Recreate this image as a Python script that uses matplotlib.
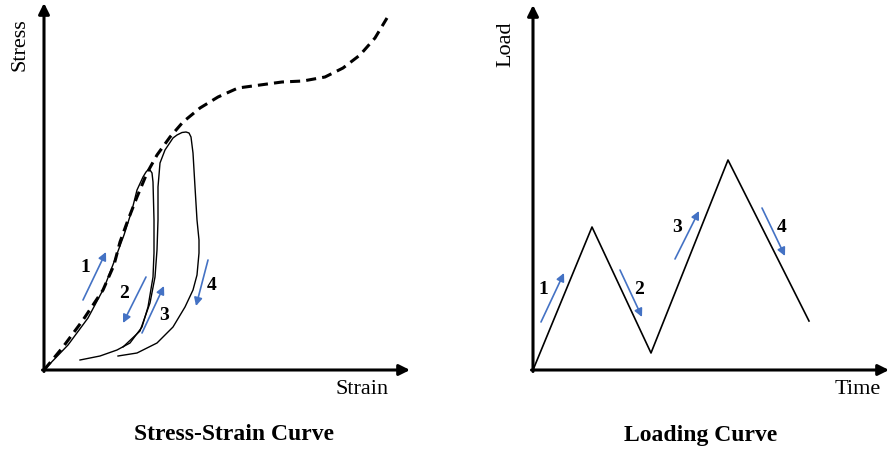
import matplotlib.pyplot as plt

plt.rcParams['font.family'] = ['Liberation Serif', 'DejaVu Serif']

# Stress-strain schematic (arbitrary units, origin at axes corner)
envelope_strain = [0, 19, 39, 59, 70, 76, 84, 93, 103, 113, 126, 139, 156, 174, 194,
                   216, 238, 259, 281, 299, 316, 331, 343]
envelope_stress = [0, 23, 50, 80, 105, 128, 150, 173, 197, 215, 233, 248, 262, 273,
                   282, 285, 288, 289, 293, 302, 315, 332, 352]

loop1_strain = [0, 24, 44, 60, 70, 80, 88, 93, 99, 102, 104, 106, 108, 109, 110, 110,
                109, 104, 98, 86, 73, 56, 36]
loop1_stress = [0, 25, 52, 82, 108, 135, 160, 180, 193, 198, 200, 200, 197, 188, 150,
                117, 93, 63, 43, 27, 20, 14, 10]

loop2_strain = [79, 96, 106, 111, 113, 114, 114, 116, 121, 129, 133, 138, 142, 145,
                147, 149, 151, 153, 155, 155, 153, 149, 141, 129, 113, 93, 74]
loop2_stress = [23, 39, 67, 93, 120, 150, 183, 207, 220, 232, 235, 237.5, 238, 237,
                233, 217, 183, 150, 130, 117, 95, 80, 63, 43, 27, 17, 14]

# blue direction arrows: (x_start, y_start, x_end, y_end) and label positions
ss_arrows = [(39, 70, 62, 118), (102, 93, 79, 47), (98, 37, 120, 84), (164, 110, 152, 64)]
ss_labels = [(41, 103), (80, 77), (120, 55), (168, 84)]

# Loading history
time = [0, 59, 118, 195, 276]
load = [0, 143, 17, 210, 49]
ld_arrows = [(8, 48, 31, 97), (87, 100, 109, 53), (142, 111, 166, 159), (229, 162, 252, 114)]
ld_labels = [(10, 81), (106, 81), (144, 142), (249, 142)]

step_names = ['1', '2', '3', '4']
blue = '#4472C4'

fig = plt.figure(figsize=(8.9, 4.5), dpi=100)
ax1 = fig.add_axes([0, 0, 0.5, 1])
ax2 = fig.add_axes([0.5, 0, 0.5, 1])
ax1.set_xlim(-44, 401)
ax1.set_ylim(-80, 370)
ax2.set_xlim(-88, 357)
ax2.set_ylim(-80, 370)


def draw_axes(ax, xmax, ymax):
    head = dict(arrowstyle='-|>', lw=2.2, color='black', mutation_scale=16,
                shrinkA=0, shrinkB=0)
    ax.annotate('', xy=(xmax, 0), xytext=(-1.5, 0), arrowprops=head)
    ax.annotate('', xy=(0, ymax), xytext=(0, -1.5), arrowprops=head)
    ax.axis('off')


def draw_steps(ax, arrows, labels):
    for (x0, y0, x1, y1), (lx, ly), name in zip(arrows, labels, step_names):
        ax.annotate('', xy=(x1, y1), xytext=(x0, y0),
                    arrowprops=dict(arrowstyle='-|>', lw=1.2, color=blue,
                                    mutation_scale=12, shrinkA=0, shrinkB=0))
        ax.text(lx, ly, name, fontsize=14, fontweight='bold', ha='center', va='center')


# Left panel
draw_axes(ax1, 366, 367)
ax1.plot(envelope_strain, envelope_stress, color='black', lw=2.2,
         linestyle=(0, (3.3, 2.0)), solid_joinstyle='round')
ax1.plot(loop1_strain, loop1_stress, color='black', lw=1.0, solid_joinstyle='round')
ax1.plot(loop2_strain, loop2_stress, color='black', lw=1.0, solid_joinstyle='round')
draw_steps(ax1, ss_arrows, ss_labels)
ax1.text(-24, 325, 'Stress', fontsize=16, rotation=90, ha='center', va='center')
ax1.text(318, -20, 'Strain', fontsize=16, ha='center', va='center')
ax1.text(190, -65, 'Stress-Strain Curve', fontsize=17, fontweight='bold',
         ha='center', va='center')

# Right panel
draw_axes(ax2, 356, 365)
ax2.plot(time, load, color='black', lw=1.2)
draw_steps(ax2, ld_arrows, ld_labels)
ax2.text(-27, 326, 'Load', fontsize=16, rotation=90, ha='center', va='center')
ax2.text(325, -20, 'Time', fontsize=16, ha='center', va='center')
ax2.text(168, -65, 'Loading Curve', fontsize=17, fontweight='bold',
         ha='center', va='center')

fig.savefig('out.png', dpi=100)
